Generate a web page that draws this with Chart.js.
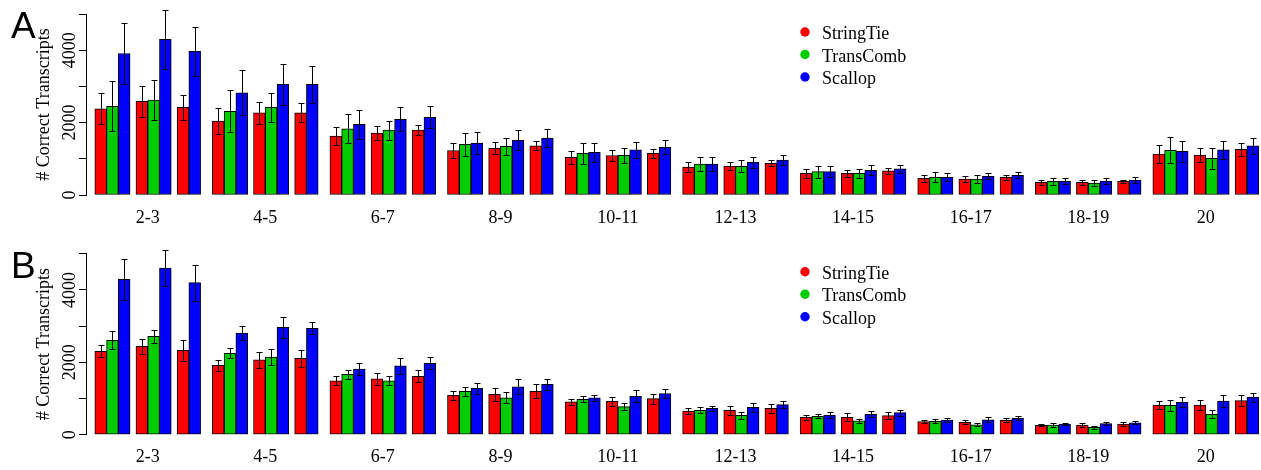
<!DOCTYPE html>
<html>
<head>
<meta charset="utf-8">
<script src="https://cdn.jsdelivr.net/npm/chart.js@4.4.0/dist/chart.umd.min.js"></script>
<style>
html, body { margin: 0; padding: 0; background: #fff; }
canvas { display: block; }
</style>
</head>
<body>
<canvas id="chartA" width="1261" height="235"></canvas>
<canvas id="chartB" width="1261" height="235"></canvas>
<script>
var groups = ['2-3', '4-5', '6-7', '8-9', '10-11', '12-13', '14-15', '16-17', '18-19', '20'];
var yLabels = [0, 2000, 4000];

// panel A -- three runs per group for StringTie / Scallop, two for TransComb
var stringtieA = [2380, 2590, 2420, 2040, 2270, 2270, 1630, 1710, 1790, 1230, 1290, 1360, 1040, 1090, 1150,
                  770, 800, 875, 600, 600, 665, 460, 440, 490, 350, 350, 375, 1130, 1105, 1260];
var stringtieErrA = [430, 430, 350, 350, 295, 260, 245, 190, 135, 220, 165, 125, 185, 145, 130,
                     130, 110, 85, 130, 90, 75, 95, 90, 75, 70, 60, 50, 240, 195, 175];
var transcombA = [2450, 2620, 2310, 2420, 1830, 1790, 1400, 1345, 1150, 1095,
                  855, 790, 645, 600, 490, 440, 378, 330, 1235, 1015];
var transcombErrA = [690, 550, 580, 400, 395, 260, 325, 235, 290, 205,
                     205, 165, 165, 130, 140, 105, 95, 75, 355, 285];
var scallopA = [3910, 4300, 3970, 2820, 3060, 3060, 1950, 2090, 2145, 1435, 1510, 1575, 1180, 1245, 1315,
                855, 905, 965, 645, 680, 720, 490, 515, 545, 378, 387, 414, 1205, 1245, 1355];
var scallopErrA = [850, 810, 680, 620, 560, 510, 410, 330, 300, 315, 275, 245, 265, 230, 195,
                   190, 150, 140, 160, 140, 115, 115, 85, 85, 85, 75, 70, 295, 260, 230];

// panel B
var stringtieB = [2305, 2440, 2330, 1915, 2065, 2110, 1485, 1540, 1615, 1090, 1115, 1200, 910, 920, 995,
                  655, 675, 730, 480, 480, 525, 360, 345, 400, 260, 268, 296, 820, 820, 940];
var stringtieErrB = [165, 200, 295, 160, 230, 235, 125, 175, 170, 130, 185, 190, 85, 135, 140,
                     85, 130, 130, 70, 110, 100, 45, 55, 60, 30, 55, 50, 115, 145, 150];
var transcombB = [2610, 2720, 2250, 2145, 1670, 1490, 1200, 1020, 980, 775,
                  675, 535, 508, 380, 370, 276, 268, 204, 812, 563];
var transcombErrB = [255, 180, 140, 225, 120, 130, 125, 150, 80, 90,
                     85, 95, 60, 65, 60, 40, 50, 35, 150, 110];
var scallopB = [4295, 4605, 4200, 2810, 2965, 2940, 1815, 1900, 1970, 1280, 1325, 1390, 1020, 1060, 1135,
                730, 755, 830, 545, 563, 608, 406, 414, 453, 296, 304, 331, 895, 930, 1040];
var scallopErrB = [565, 510, 495, 205, 295, 160, 160, 215, 165, 150, 200, 160, 85, 165, 115,
                   75, 130, 90, 70, 85, 80, 50, 70, 55, 35, 45, 40, 140, 155, 125];

// layout of a group on the x axis, in bar widths
var runStart = [0, 3.5, 7];
var groupWidth = 10;

function makePoints(values, slots) {
  var pts = [];
  for (var g = 0; g < groups.length; g++) {
    for (var r = 0; r < slots.length; r++) {
      pts.push({ x: g * groupWidth + runStart[r] + slots[r] + 0.5, y: values[g * slots.length + r] });
    }
  }
  return pts;
}

var errorBars = {
  id: 'errorBars',
  afterDatasetsDraw: function(chart) {
    var ctx = chart.ctx, y = chart.scales.y;
    ctx.save();
    ctx.strokeStyle = '#000';
    ctx.lineWidth = 1;
    chart.data.datasets.forEach(function(ds, i) {
      chart.getDatasetMeta(i).data.forEach(function(bar, j) {
        var v = ds.data[j].y, e = ds.errors[j];
        var top = Math.round(y.getPixelForValue(v + e)) + 0.5;
        var bot = Math.round(y.getPixelForValue(v - e)) + 0.5;
        var x = Math.round(bar.x) + 0.5;
        ctx.beginPath();
        ctx.moveTo(x, top); ctx.lineTo(x, bot);
        ctx.moveTo(x - 3, top); ctx.lineTo(x + 3, top);
        ctx.moveTo(x - 3, bot); ctx.lineTo(x + 3, bot);
        ctx.stroke();
      });
    });
    ctx.restore();
  }
};

var decor = {
  id: 'decor',
  afterDraw: function(chart, args, opts) {
    var ctx = chart.ctx, y = chart.scales.y, area = chart.chartArea;
    ctx.save();
    ctx.fillStyle = '#000';
    ctx.font = '18px "Liberation Serif"';
    ctx.textAlign = 'center';
    ctx.textBaseline = 'alphabetic';
    // R style: tick labels parallel to the axis
    yLabels.forEach(function(t) {
      ctx.save();
      ctx.translate(area.left - 11, y.getPixelForValue(t));
      ctx.rotate(-Math.PI / 2);
      ctx.fillText(String(t), 0, 0);
      ctx.restore();
    });
    // legend
    ctx.textAlign = 'left';
    chart.data.datasets.forEach(function(ds, i) {
      var cy = area.top + 18 + i * 22.5;
      ctx.fillStyle = ds.backgroundColor;
      ctx.beginPath();
      ctx.arc(805, cy, 4.7, 0, 2 * Math.PI);
      ctx.fill();
      ctx.fillStyle = '#000';
      ctx.fillText(ds.label, 822, cy + 7);
    });
    ctx.font = '37px "Liberation Sans"';
    ctx.fillText(opts.letter, 11, opts.letterY);
    ctx.restore();
  }
};

function makeChart(id, letter, letterY, padTop, axisHeight, st, stErr, tc, tcErr, sc, scErr) {
  var barStyle = { borderColor: '#000', borderWidth: 1, borderSkipped: false, grouped: false,
                   barPercentage: 1, categoryPercentage: 1 };
  return new Chart(document.getElementById(id), {
    type: 'bar',
    data: {
      datasets: [
        Object.assign({ label: 'StringTie', backgroundColor: '#ff0000', data: makePoints(st, [0, 0, 0]), errors: stErr }, barStyle),
        Object.assign({ label: 'TransComb', backgroundColor: '#00cd00', data: makePoints(tc, [1, 1]), errors: tcErr }, barStyle),
        Object.assign({ label: 'Scallop', backgroundColor: '#0000ff', data: makePoints(sc, [2, 2, 1]), errors: scErr }, barStyle)
      ]
    },
    options: {
      responsive: false,
      animation: false,
      layout: { padding: { top: padTop, left: 33, right: 0, bottom: 0 } },
      plugins: {
        legend: { display: false },
        tooltip: { enabled: false },
        decor: { letter: letter, letterY: letterY }
      },
      scales: {
        x: {
          type: 'linear',
          offset: false,
          min: -0.75,
          max: 99.2,
          grid: { display: false, drawTicks: false, offset: false },
          border: { display: false },
          afterBuildTicks: function(s) {
            s.ticks = groups.map(function(g, i) { return { value: i * groupWidth + 4.5 }; });
          },
          afterFit: function(s) { s.height = axisHeight; },
          ticks: {
            autoSkip: false, maxRotation: 0, padding: 12, color: '#000',
            font: { family: 'Liberation Serif', size: 18 },
            callback: function(v, i) { return groups[i]; }
          }
        },
        y: {
          min: 0,
          max: 5000,
          ticks: { stepSize: 1000, display: false },
          grid: { drawOnChartArea: false, drawTicks: true, tickLength: 7, color: '#000' },
          border: { display: true, color: '#000' },
          title: { display: true, text: '# Correct Transcripts', color: '#000', padding: 0,
                   font: { family: 'Liberation Serif', size: 18 } },
          afterFit: function(s) { s.width = 53; }
        }
      }
    },
    plugins: [errorBars, decor]
  });
}

makeChart('chartA', 'A', 38, 14, 40, stringtieA, stringtieErrA, transcombA, transcombErrA, scallopA, scallopErrA);
makeChart('chartB', 'B', 43, 18.7, 35.3, stringtieB, stringtieErrB, transcombB, transcombErrB, scallopB, scallopErrB);
</script>
</body>
</html>
